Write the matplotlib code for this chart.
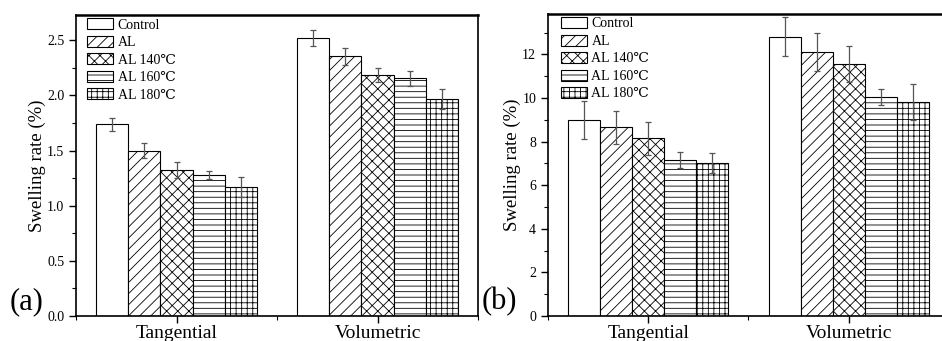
import matplotlib
matplotlib.use("Agg")
import matplotlib.pyplot as plt
import numpy as np
from matplotlib.patches import Patch
from matplotlib.ticker import MultipleLocator, FixedLocator

plt.rcParams["font.family"] = ["Liberation Serif", "DejaVu Serif"]
plt.rcParams["hatch.linewidth"] = 0.6

categories = ["Tangential", "Volumetric"]
series = ["Control", "AL", "AL 140\u2103", "AL 160\u2103", "AL 180\u2103"]
hatches = ["", "///", "xxx", "---", "+++"]

# (a) valores e desvios
vals_a = {
    "Control": [1.74, 2.52],
    "AL": [1.50, 2.355],
    "AL 140\u2103": [1.323, 2.186],
    "AL 160\u2103": [1.278, 2.155],
    "AL 180\u2103": [1.169, 1.968],
}
err_a = {
    "Control": [0.06, 0.07],
    "AL": [0.07, 0.075],
    "AL 140\u2103": [0.07, 0.065],
    "AL 160\u2103": [0.035, 0.07],
    "AL 180\u2103": [0.09, 0.09],
}

# (b)
vals_b = {
    "Control": [8.98, 12.81],
    "AL": [8.66, 12.10],
    "AL 140\u2103": [8.15, 11.55],
    "AL 160\u2103": [7.17, 10.03],
    "AL 180\u2103": [7.02, 9.80],
}
err_b = {
    "Control": [0.88, 0.89],
    "AL": [0.76, 0.88],
    "AL 140\u2103": [0.77, 0.82],
    "AL 160\u2103": [0.36, 0.37],
    "AL 180\u2103": [0.44, 0.83],
}


def draw_panel(ax, vals, errs, ylim, major, minor, letter, fmt, anchor):
    x = np.arange(1, len(categories) + 1)
    largura = 0.16
    for k, nome in enumerate(series):
        pos = x + (k - 2) * largura
        ax.bar(pos, vals[nome], largura, color="white", edgecolor="black",
               linewidth=0.8, hatch=hatches[k], zorder=2)
        ax.errorbar(pos, vals[nome], yerr=errs[nome], fmt="none", ecolor="#555555",
                    elinewidth=0.9, capsize=2.5, capthick=0.9, zorder=3)
    ax.set_xlim(0.5, 2.5)
    ax.set_ylim(*ylim)
    ax.set_xticks(x, categories)
    ax.xaxis.set_minor_locator(FixedLocator([0.5, 1.5, 2.5]))
    ax.yaxis.set_major_locator(MultipleLocator(major))
    ax.yaxis.set_minor_locator(MultipleLocator(minor))
    ax.yaxis.set_major_formatter(fmt)
    ax.tick_params(axis="both", which="major", direction="out", length=5, width=1,
                   labelsize=10)
    ax.tick_params(axis="x", which="major", labelsize=14, pad=1.5)
    ax.tick_params(axis="both", which="minor", direction="out", length=3, width=0.8)
    for s in ax.spines.values():
        s.set_linewidth(1.2)
    ax.spines["top"].set_linewidth(1.8)
    ax.set_ylabel("Swelling rate (%)", fontsize=13.5, labelpad=1)
    handles = [Patch(facecolor="white", edgecolor="black", linewidth=0.8, hatch=h)
               for h in hatches]
    ax.legend(handles, series, loc="upper left", bbox_to_anchor=anchor,
              frameon=False, fontsize=10,
              handlelength=1.9, handleheight=0.85, handletextpad=0.3,
              labelspacing=0.3, borderaxespad=0.3, borderpad=0.2)
    ax.text(-0.165, 0.0, letter, transform=ax.transAxes, fontsize=22,
            ha="left", va="bottom")


fig = plt.figure(figsize=(9.42, 3.41), dpi=100)
ax_a = fig.add_axes([0.0807, 0.0733, 0.4268, 0.8827])
ax_b = fig.add_axes([0.5817, 0.0733, 0.4257, 0.8856])

draw_panel(ax_a, vals_a, err_a, (0, 2.73), 0.5, 0.25, "(a)", "{x:.1f}", (0.01, 1.012))
draw_panel(ax_b, vals_b, err_b, (0, 13.85), 2, 1, "(b)", "{x:.0f}", (0.015, 1.013))

fig.savefig("out.png", dpi=100)
